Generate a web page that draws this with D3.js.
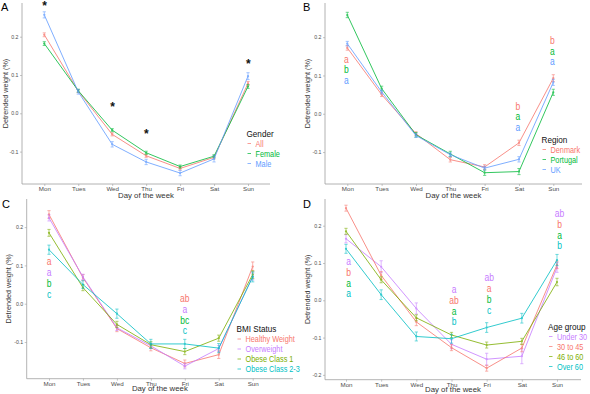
<!DOCTYPE html>
<html>
<head>
<meta charset="utf-8">
<script src="https://cdn.jsdelivr.net/npm/d3@7"></script>
<style>
  body { margin: 0; background: #fff; }
  text { font-family: "Liberation Sans", Arial, sans-serif; }
</style>
</head>
<body>
<svg width="590" height="394"></svg>
<script>
var days = ["Mon", "Tues", "Wed", "Thu", "Fri", "Sat", "Sun"];

// panel A - gender
var genderNames = ["All", "Female", "Male"];
var genderAll = [0.205, 0.058, -0.055, -0.111, -0.144, -0.115, 0.078];
var genderFemale = [0.182, 0.059, -0.044, -0.103, -0.139, -0.112, 0.070];
var genderMale = [0.257, 0.056, -0.081, -0.127, -0.156, -0.119, 0.097];
var genderAllErr = [0.005, 0.004, 0.004, 0.004, 0.004, 0.004, 0.005];
var genderFemaleErr = [0.005, 0.004, 0.004, 0.004, 0.004, 0.004, 0.005];
var genderMaleErr = [0.008, 0.006, 0.007, 0.007, 0.007, 0.008, 0.009];
var starDays = ["Mon", "Wed", "Thu", "Sun"];
var starValues = [0.286, 0.022, -0.047, 0.135];

// panel B - region
var regionNames = ["Denmark", "Portugal", "UK"];
var regionDenmark = [0.172, 0.050, -0.052, -0.120, -0.139, -0.076, 0.093];
var regionPortugal = [0.258, 0.066, -0.055, -0.105, -0.154, -0.151, 0.056];
var regionUK = [0.183, 0.057, -0.057, -0.107, -0.142, -0.119, 0.082];
var regionDenmarkErr = [0.006, 0.005, 0.005, 0.006, 0.006, 0.007, 0.009];
var regionPortugalErr = [0.007, 0.006, 0.006, 0.007, 0.007, 0.008, 0.008];
var regionUKErr = [0.006, 0.005, 0.005, 0.005, 0.005, 0.007, 0.008];
var regionLetterDays = ["Mon", "Sat", "Sun"];
var regionLetterTop = [0.143, 0.020, 0.192];
var regionLetters = [["a", "b", "a"], ["b", "a", "a"], ["b", "a", "a"]];

// panel C - BMI
var bmiNames = ["Healthy Weight", "Overweight", "Obese Class 1", "Obese Class 2-3"];
var bmiHealthy = [0.233, 0.068, -0.065, -0.115, -0.156, -0.133, 0.097];
var bmiOver = [0.224, 0.070, -0.063, -0.110, -0.163, -0.117, 0.071];
var bmiObese1 = [0.185, 0.042, -0.054, -0.107, -0.125, -0.090, 0.076];
var bmiObese23 = [0.141, 0.050, -0.026, -0.105, -0.105, -0.116, 0.070];
var bmiHealthyErr = [0.010, 0.008, 0.008, 0.008, 0.009, 0.010, 0.012];
var bmiOverErr = [0.008, 0.007, 0.007, 0.007, 0.007, 0.008, 0.009];
var bmiObese1Err = [0.009, 0.008, 0.008, 0.008, 0.008, 0.008, 0.010];
var bmiObese23Err = [0.012, 0.010, 0.012, 0.012, 0.012, 0.012, 0.013];
var bmiLetterDays = ["Mon", "Fri"];
var bmiLetterTop = [0.109, 0.013];
var bmiLetters = [["a", "a", "b", "c"], ["ab", "a", "bc", "c"]];

// panel D - age
var ageNames = ["Under 30", "30 to 45", "46 to 60", "Over 60"];
var ageUnder30 = [0.165, 0.090, -0.022, -0.118, -0.158, -0.150, 0.088];
var age30to45 = [0.247, 0.067, -0.058, -0.127, -0.182, -0.128, 0.095];
var age46to60 = [0.185, 0.055, -0.047, -0.093, -0.120, -0.110, 0.049];
var ageOver60 = [0.138, 0.015, -0.097, -0.103, -0.073, -0.048, 0.108];
var ageUnder30Err = [0.011, 0.016, 0.015, 0.012, 0.016, 0.020, 0.013];
var age30to45Err = [0.008, 0.010, 0.010, 0.008, 0.008, 0.010, 0.010];
var age46to60Err = [0.008, 0.008, 0.008, 0.007, 0.008, 0.008, 0.010];
var ageOver60Err = [0.012, 0.013, 0.012, 0.012, 0.013, 0.013, 0.015];
var ageLetterDays = ["Mon", "Thu", "Fri", "Sun"];
var ageLetterTop = [0.103, 0.028, 0.060, 0.232];
var ageLetters = [["a", "b", "a", "a"], ["a", "ab", "a", "b"], ["ab", "a", "b", "c"], ["ab", "b", "a", "b"]];

var RED = "#F8766D", GREEN = "#00BA38", BLUE = "#619CFF",
    OLIVE = "#7CAE00", CYAN = "#00BFC4", PURPLE = "#C77CFF";

var svg = d3.select("svg");
var fmt = d3.format(".1f");

// legend and letters look like a narrow (Calibri-like) face, squeeze Liberation Sans
function narrowText(sel, x, y, str) {
    return sel.append("text")
        .attr("transform", "translate(" + x + "," + y + ") scale(0.85,1)")
        .text(str);
}

function drawPanel(p) {
    var g = svg.append("g");
    var x = d3.scalePoint().domain(days).range([p.catL, p.catR]);
    var y = d3.scaleLinear().domain(p.yDomain).range([p.bottom, p.top]);

    // axes
    var xAxis = g.append("g")
        .attr("transform", "translate(0," + p.bottom + ")")
        .call(d3.axisBottom(x).tickSize(2).tickPadding(0.6));
    xAxis.select(".domain").attr("d", "M" + p.left + ",0H" + p.right);
    var yAxis = g.append("g")
        .attr("transform", "translate(" + p.left + ",0)")
        .call(d3.axisLeft(y).tickValues(p.ticks).tickSize(2).tickPadding(1.5)
            .tickFormat(function (d) { return fmt(d).replace("\u2212", "-"); }));
    yAxis.select(".domain").attr("d", "M0," + p.top + "V" + p.bottom);
    g.selectAll(".domain").attr("stroke", "#a0a0a0").attr("stroke-width", 0.8);
    g.selectAll(".tick line").attr("stroke", "#a0a0a0").attr("stroke-width", 0.6);
    xAxis.selectAll(".tick text").attr("font-size", 6.2).attr("fill", "#4d4d4d");
    yAxis.selectAll(".tick text").attr("font-size", 5.2).attr("fill", "#4d4d4d");

    // titles
    g.append("text")
        .attr("x", (p.left + p.right) / 2).attr("y", p.bottom + p.xtitleDy)
        .attr("text-anchor", "middle").attr("font-size", 7.8).attr("fill", "#333")
        .text("Day of the week");
    g.append("text")
        .attr("transform", "translate(" + p.ytitleX + "," + ((p.top + p.bottom) / 2) + ") rotate(-90)")
        .attr("text-anchor", "middle").attr("font-size", 7.2).attr("fill", "#333")
        .text("Detrended weight (%)");
    g.append("text")
        .attr("x", p.labelX).attr("y", p.labelY)
        .attr("font-size", 11).attr("fill", "#000")
        .text(p.label);

    // series
    var line = d3.line()
        .x(function (d, i) { return x(days[i]); })
        .y(function (d) { return y(d); });
    p.series.forEach(function (s) {
        var sg = g.append("g").attr("opacity", 0.8);
        sg.append("path").datum(s.values)
            .attr("d", line).attr("fill", "none")
            .attr("stroke", s.color).attr("stroke-width", 1);
        sg.selectAll(".err").data(s.values).enter().append("path")
            .attr("d", function (d, i) {
                var cx = x(days[i]), y1 = y(d + s.err[i]), y2 = y(d - s.err[i]);
                return "M" + (cx - 1.6) + "," + y1 + "H" + (cx + 1.6) +
                    "M" + cx + "," + y1 + "V" + y2 +
                    "M" + (cx - 1.6) + "," + y2 + "H" + (cx + 1.6);
            })
            .attr("fill", "none").attr("stroke", s.color).attr("stroke-width", 0.7);
        sg.selectAll("circle").data(s.values).enter().append("circle")
            .attr("cx", function (d, i) { return x(days[i]); })
            .attr("cy", function (d) { return y(d); })
            .attr("r", 1.1).attr("fill", s.color);
    });

    // significance letters
    if (p.letterDays) {
        p.letterDays.forEach(function (day, k) {
            p.letters[k].forEach(function (t, j) {
                narrowText(g, x(day) + (p.letterDx || 0), y(p.letterTop[k]) + j * p.letterStep + 3.5, t)
                    .attr("text-anchor", "middle").attr("font-size", 10)
                    .attr("fill", p.letterColors[j]);
            });
        });
    }

    // legend
    var lg = g.append("g").attr("transform", "translate(" + p.legX + "," + p.legY + ")");
    narrowText(lg, 0, 0, p.legTitle)
        .attr("font-size", 9.6).attr("fill", "#111");
    p.series.forEach(function (s, i) {
        var yy = 10 * (i + 1);
        lg.append("line")
            .attr("x1", 1).attr("x2", 4.5).attr("y1", yy - 3).attr("y2", yy - 3)
            .attr("stroke", s.color).attr("stroke-width", 0.9).attr("opacity", 0.8);
        narrowText(lg, 9, yy, s.name)
            .attr("font-size", 8.6).attr("fill", s.color);
    });
}

drawPanel({
    label: "A", labelX: 1, labelY: 11,
    left: 22, right: 270, top: 3, bottom: 184, catL: 44.3, catR: 248,
    yDomain: [-0.1846, 0.288], ticks: [-0.1, 0, 0.1, 0.2], ytitleX: 8, xtitleDy: 13.5,
    series: [
        { name: genderNames[0], values: genderAll, err: genderAllErr, color: RED },
        { name: genderNames[1], values: genderFemale, err: genderFemaleErr, color: GREEN },
        { name: genderNames[2], values: genderMale, err: genderMaleErr, color: BLUE }
    ],
    legTitle: "Gender", legX: 246.5, legY: 136.5
});

drawPanel({
    label: "B", labelX: 303, labelY: 11,
    left: 325, right: 582, top: 3, bottom: 184, catL: 347.3, catR: 553.3,
    yDomain: [-0.1835, 0.2893], ticks: [-0.1, 0, 0.1, 0.2], ytitleX: 310, xtitleDy: 13.5,
    series: [
        { name: regionNames[0], values: regionDenmark, err: regionDenmarkErr, color: RED },
        { name: regionNames[1], values: regionPortugal, err: regionPortugalErr, color: GREEN },
        { name: regionNames[2], values: regionUK, err: regionUKErr, color: BLUE }
    ],
    letterDays: regionLetterDays, letterTop: regionLetterTop, letters: regionLetters,
    letterColors: [RED, GREEN, BLUE], letterStep: 10.8, letterDx: -1,
    legTitle: "Region", legX: 541.5, legY: 142.5
});

drawPanel({
    label: "C", labelX: 2, labelY: 208,
    left: 26.7, right: 293, top: 199, bottom: 378.7, catL: 49, catR: 252.7,
    yDomain: [-0.1958, 0.2734], ticks: [-0.1, 0, 0.1, 0.2], ytitleX: 11, xtitleDy: 12,
    series: [
        { name: bmiNames[0], values: bmiHealthy, err: bmiHealthyErr, color: RED },
        { name: bmiNames[1], values: bmiOver, err: bmiOverErr, color: PURPLE },
        { name: bmiNames[2], values: bmiObese1, err: bmiObese1Err, color: OLIVE },
        { name: bmiNames[3], values: bmiObese23, err: bmiObese23Err, color: CYAN }
    ],
    letterDays: bmiLetterDays, letterTop: bmiLetterTop, letters: bmiLetters,
    letterColors: [RED, PURPLE, GREEN, CYAN], letterStep: 10.7, letterDx: 0,
    legTitle: "BMI Status", legX: 236.5, legY: 332
});

drawPanel({
    label: "D", labelX: 303, labelY: 208,
    left: 325, right: 581, top: 199, bottom: 379.7, catL: 346, catR: 557,
    yDomain: [-0.2129, 0.2716], ticks: [-0.2, -0.1, 0, 0.1, 0.2], ytitleX: 310, xtitleDy: 12,
    series: [
        { name: ageNames[0], values: ageUnder30, err: ageUnder30Err, color: PURPLE },
        { name: ageNames[1], values: age30to45, err: age30to45Err, color: RED },
        { name: ageNames[2], values: age46to60, err: age46to60Err, color: OLIVE },
        { name: ageNames[3], values: ageOver60, err: ageOver60Err, color: CYAN }
    ],
    letterDays: ageLetterDays, letterTop: ageLetterTop, letters: ageLetters,
    letterColors: [PURPLE, RED, GREEN, CYAN], letterStep: 10.7, letterDx: 2.5,
    legTitle: "Age group", legX: 548, legY: 329.5
});

// asterisks in panel A
var xA = d3.scalePoint().domain(days).range([44.3, 248]);
var yA = d3.scaleLinear().domain([-0.1846, 0.288]).range([184, 3]);
svg.append("g").selectAll("text").data(starDays).enter().append("text")
    .attr("x", function (d) { return xA(d) + 0.3; })
    .attr("y", function (d, i) { return yA(starValues[i]) + 6.5; })
    .attr("text-anchor", "middle").attr("font-size", 12).attr("font-weight", "bold")
    .attr("fill", "#111")
    .text("*");
</script>
</body>
</html>
